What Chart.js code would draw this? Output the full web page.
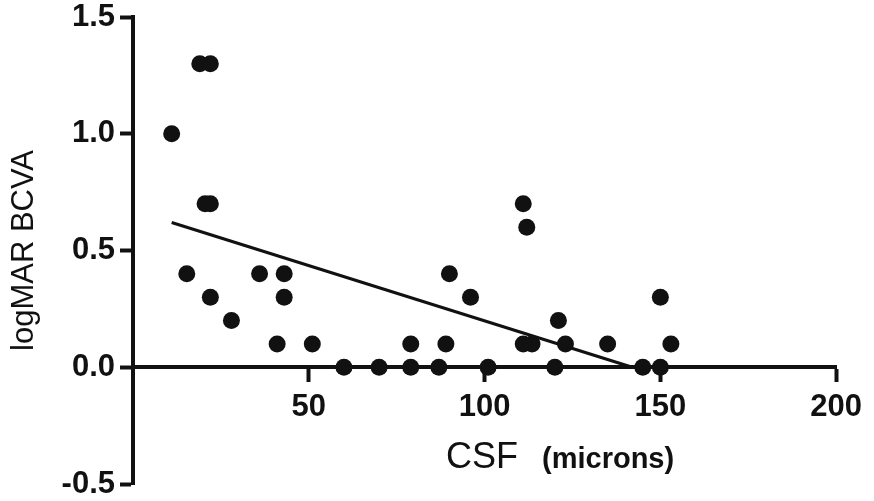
<!DOCTYPE html>
<html>
<head>
<meta charset="utf-8">
<script src="https://cdn.jsdelivr.net/npm/chart.js@4.4.1/dist/chart.umd.min.js"></script>
<style>
  html, body { margin: 0; padding: 0; background: #fff; }
  canvas { display: block; }
</style>
</head>
<body>
<canvas id="chart" width="874" height="501"></canvas>
<script>
// CSF (microns) vs logMAR BCVA
const csf    = [11, 19, 22, 20.5, 22, 15.3, 36, 43, 90, 22, 43, 96, 150, 28, 121,
                41, 51, 79, 89, 111, 113.5, 123, 135, 153, 111, 112,
                60, 70, 79, 87, 101, 120, 145, 150];
const logmar = [1.0, 1.3, 1.3, 0.7, 0.7, 0.4, 0.4, 0.4, 0.4, 0.3, 0.3, 0.3, 0.3, 0.2, 0.2,
                0.1, 0.1, 0.1, 0.1, 0.1, 0.1, 0.1, 0.1, 0.1, 0.7, 0.6,
                0, 0, 0, 0, 0, 0, 0, 0];

// regression line end points
const fitX = [11, 142];
const fitY = [0.62, 0];

const xTicks = [50, 100, 150, 200];
const yTicks = [-0.5, 0, 0.5, 1.0, 1.5];

const ink = '#111';
const family = '"Liberation Sans", Arial, sans-serif';

// x title mixes two fonts, so draw it by hand
const axisLabel = {
  id: 'axisLabel',
  afterDraw(chart) {
    const ctx = chart.ctx;
    ctx.save();
    ctx.fillStyle = ink;
    ctx.textBaseline = 'alphabetic';
    ctx.textAlign = 'left';
    ctx.font = '36px ' + family;
    ctx.fillText('CSF', 446, 468);
    ctx.font = 'bold 29px ' + family;
    ctx.fillText('(microns)', 542, 468);
    ctx.restore();
  }
};

const points = csf.map((x, i) => ({ x: x, y: logmar[i] }));
const fit = fitX.map((x, i) => ({ x: x, y: fitY[i] }));

new Chart(document.getElementById('chart'), {
  type: 'scatter',
  data: {
    datasets: [
      {
        data: points,
        pointRadius: 8.5,
        pointHoverRadius: 8.5,
        backgroundColor: ink,
        borderWidth: 0
      },
      {
        data: fit,
        showLine: true,
        borderColor: ink,
        borderWidth: 3,
        pointRadius: 0
      }
    ]
  },
  options: {
    animation: false,
    responsive: false,
    layout: { padding: { left: 0, top: 17, right: 37, bottom: 17 } },
    plugins: {
      legend: { display: false },
      tooltip: { enabled: false }
    },
    scales: {
      x: {
        type: 'linear',
        min: 0,
        max: 200,
        position: { y: 0 },
        afterFit(s) { s.height = 0; },
        afterBuildTicks(s) { s.ticks = xTicks.map(v => ({ value: v })); },
        grid: { drawOnChartArea: false, tickLength: 13, tickWidth: 4, tickColor: ink },
        border: { display: true, width: 4, color: ink },
        ticks: {
          padding: 12,
          color: ink,
          maxRotation: 0,
          font: { family: family, size: 31, weight: 'bold', lineHeight: 1 }
        }
      },
      y: {
        min: -0.5,
        max: 1.5,
        afterFit(s) {
          s.width = 133;
          s.paddingTop = 0;
          s.paddingBottom = 0;
        },
        afterBuildTicks(s) { s.ticks = yTicks.map(v => ({ value: v })); },
        grid: { drawOnChartArea: false, tickLength: 13, tickWidth: 4, tickColor: ink },
        border: { display: true, width: 4, color: ink },
        ticks: {
          padding: 5,
          color: ink,
          font: { family: family, size: 31, weight: 'bold', lineHeight: 1 },
          callback: v => v.toFixed(1)
        },
        title: {
          display: true,
          text: 'logMAR BCVA',
          color: ink,
          font: { family: family, size: 31 },
          padding: { top: 6, bottom: 0 }
        }
      }
    }
  },
  plugins: [axisLabel]
});
</script>
</body>
</html>
